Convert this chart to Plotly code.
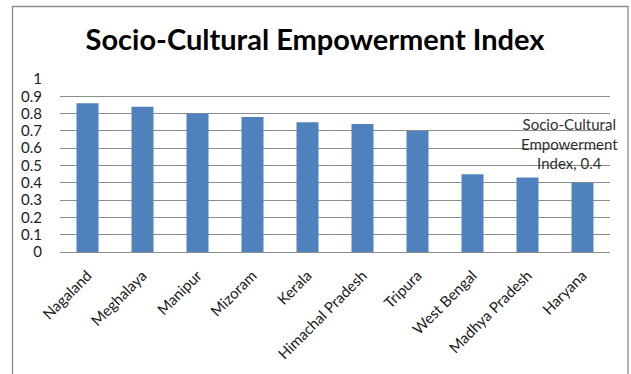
import plotly.graph_objects as go

# State-wise socio-cultural empowerment index
states = ["Nagaland", "Meghalaya", "Manipur", "Mizoram", "Kerala",
          "Himachal Pradesh", "Tripura", "West Bengal", "Madhya Pradesh", "Haryana"]
index_values = [0.86, 0.84, 0.80, 0.78, 0.75, 0.74, 0.70, 0.45, 0.43, 0.40]
series_name = "Socio-Cultural Empowerment Index"
y_ticks = [0, 0.1, 0.2, 0.3, 0.4, 0.5, 0.6, 0.7, 0.8, 0.9, 1]

W, H = 631, 374
ML, MR, MT, MB = 60, 21, 79, 122
PW, PH = W - ML - MR, H - MT - MB
FONT = "Lato, sans-serif"

def px_x(p):
    return (p - ML) / PW

def px_y(p):
    return (H - MB - p) / PH

fig = go.Figure(go.Bar(
    x=states, y=index_values, name=series_name,
    marker=dict(color="#4F81BD", line=dict(width=0)),
    width=0.4,
))

# data label on the last bar
fig.add_annotation(
    x=states[-1], y=index_values[-1],
    text=f"Socio-Cultural<br>Empowerment<br>Index, {index_values[-1]}",
    showarrow=False, yanchor="bottom", xshift=-13, yshift=9,
    font=dict(family=FONT, size=15, color="#303030"),
    align="center",
)

# outer chart frame
fig.add_shape(type="rect", xref="paper", yref="paper",
              x0=px_x(12.5), x1=px_x(628), y0=px_y(390), y1=px_y(6.5),
              line=dict(color="#8c8c8c", width=1.3), fillcolor="rgba(0,0,0,0)",
              layer="below")

fig.update_layout(
    width=W, height=H,
    margin=dict(l=ML, r=MR, t=MT, b=MB, autoexpand=False),
    paper_bgcolor="white", plot_bgcolor="white",
    showlegend=False,
    title=dict(text="<b>Socio-Cultural Empowerment Index</b>",
               x=315 / W, xanchor="center", xref="container",
               y=1 - 40 / H, yanchor="middle", yref="container",
               font=dict(family=FONT, size=29, color="#000000")),
    bargap=0.6,
)

fig.update_xaxes(
    range=[-0.5, len(states) - 0.5],
    tickangle=-45, showgrid=False, ticks="", automargin=False,
    showline=True, linecolor="#8c8c8c", linewidth=1,
    ticklabelstandoff=8,
    tickfont=dict(family=FONT, size=15, color="#202020"),
)
fig.update_yaxes(
    range=[0, 1], tickvals=y_ticks, ticktext=[f"{v:g}" for v in y_ticks],
    showgrid=True, gridcolor="#8c8c8c", gridwidth=1, zeroline=False,
    showline=False, ticks="", ticklabelstandoff=17, automargin=False,
    tickfont=dict(family=FONT, size=15, color="#202020"),
)

fig.write_html("out.html")
